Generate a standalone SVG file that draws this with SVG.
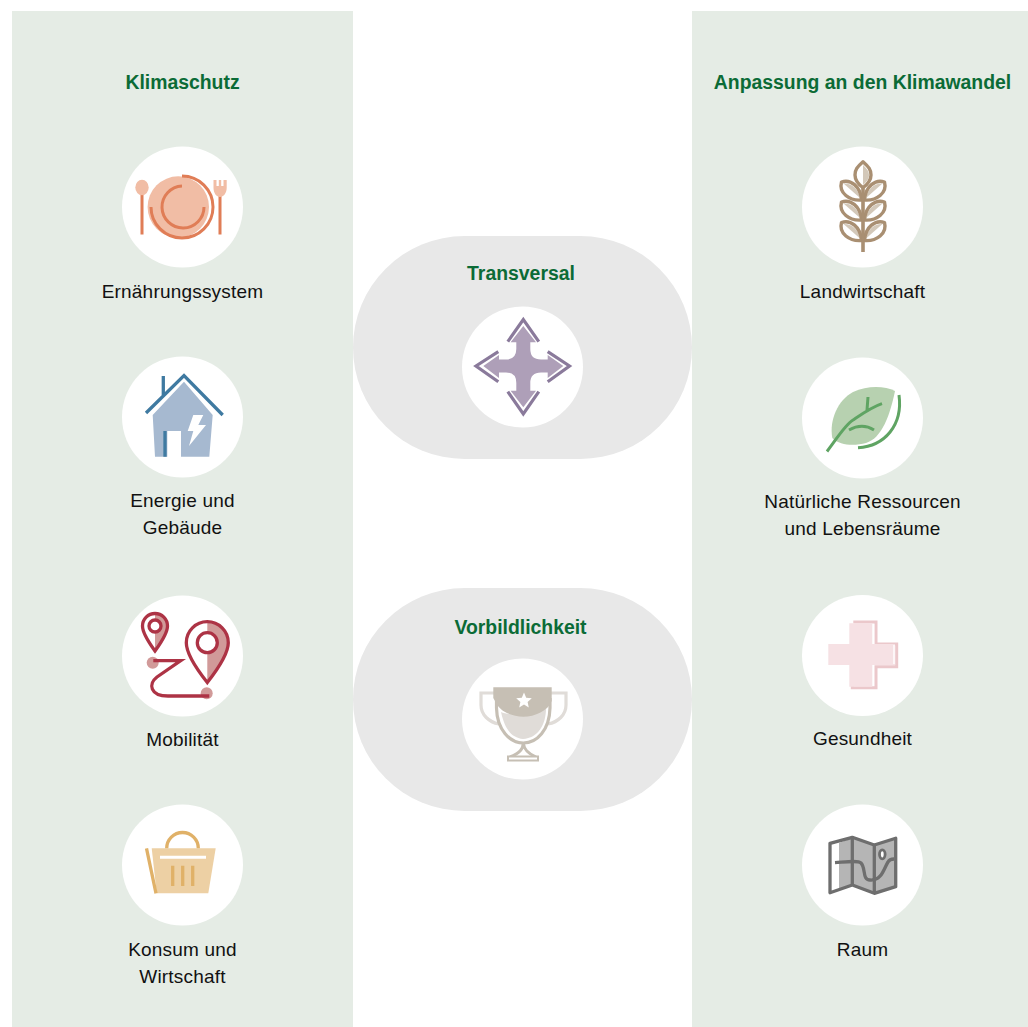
<svg xmlns="http://www.w3.org/2000/svg" xmlns:xlink="http://www.w3.org/1999/xlink" width="1028" height="1027" viewBox="0 0 1028 1027">
<style>
text{font-family:"Liberation Sans",Arial,sans-serif;text-anchor:middle}
.l{font-size:19px;fill:#111;letter-spacing:.2px}
.h{font-size:19.4px;font-weight:700;fill:#0b6b36}
.panel{fill:#e5ece5}
.pill{fill:#e8e8e8}
.disc{fill:#fff}
.n{fill:none}
</style>
<defs>
<g id="wheatLeaf"><path d="M0 1C9 -2 19 5 20 19C8 20 -3 12 0 1Z" fill="#fff"/><path d="M2 2.500C10 2 17 8 18.500 17Z" fill="#d3c8b9"/><path d="M0 1C9 -2 19 5 20 19C8 20 -3 12 0 1Z" fill="none" stroke="#a98f72" stroke-width="3.400" stroke-linejoin="round"/></g>
</defs>
<rect width="1028" height="1027" fill="#fff"/>
<g id="panels">
<rect class="panel" x="12" y="11" width="341" height="1016"/>
<rect class="panel" x="692" y="11" width="336" height="1016"/>
<rect class="pill" x="353" y="236" width="339" height="223" rx="111.500"/>
<rect class="pill" x="353" y="588" width="339" height="223" rx="111.500"/>
</g>
<g id="connectors"></g>
<g id="head-klimaschutz"><text class="h" x="182.500" y="89">Klimaschutz</text></g>
<g id="head-anpassung"><text class="h" x="862.500" y="89">Anpassung an den Klimawandel</text></g>

<g id="ernaehrung">
<circle class="disc" cx="182.500" cy="207" r="60.500"/>
<circle cx="178.300" cy="207" r="30.700" fill="#f1bda5"/>
<g class="n" stroke="#e07d56" stroke-width="3">
<path d="M182 176A31 31 0 1 1 151 207"/>
<path d="M182 186A21 21 0 1 0 204 207"/>
<path d="M142 194V234.500M220 195V234.500"/>
</g>
<ellipse cx="142" cy="187.500" rx="6.700" ry="7.700" fill="#f1bda5"/>
<path d="M213.500 180H216.500V186H218.800V180H221.200V186H223.500V180H226.700V188C226.700 193 223.500 197 220 197C216.500 197 213.500 193 213.500 188Z" fill="#f1bda5"/>
<text class="l" x="182.500" y="298">Ernährungssystem</text>
</g>

<g id="energie">
<circle class="disc" cx="182.500" cy="417" r="60.500"/>
<path d="M152.700 415L184 381.700L212.700 415L209.300 456.700H181V431H167.300V456.700H155Z" fill="#a6b9d0"/>
<path d="M163.300 376V395M146 413L184 375.500L222.700 415M165 431V456.700" class="n" stroke="#3f7aa1" stroke-width="3.300"/>
<path d="M193.300 415H203.300L198.300 425H206L189 446L193.300 431H187.700Z" fill="#fff"/>
<text class="l" x="182.500" y="507">Energie und</text>
<text class="l" x="182.500" y="534">Gebäude</text>
</g>

<g id="mobilitaet">
<circle class="disc" cx="182.500" cy="656" r="60.500"/>
<path d="M155 614A12 12 0 0 1 167 626C167 633 160 644 155 651Z" fill="#d19a99"/>
<path d="M207.300 621.500A21 21 0 0 1 228.300 642.700C228.300 655 215 672 207.300 682Z" fill="#d19a99"/>
<circle cx="152.700" cy="662.700" r="6" fill="#d19a99"/>
<circle cx="206.700" cy="693.300" r="6" fill="#d19a99"/>
<g fill="#fff" stroke="#ad3345" stroke-width="3.300">
<path d="M155 651C150 644 142.500 634 142.500 626A12.500 12.500 0 0 1 167.500 626C167.500 634 160 644 155 651Z" fill="none"/>
<circle cx="155" cy="626" r="6"/>
<path d="M207.300 682.500C199 672 186.300 655 186.300 642.700A21 21 0 0 1 228.300 642.700C228.300 655 215.500 672 207.300 682.500Z" fill="none"/>
<circle cx="207.300" cy="642.700" r="10"/>
<path d="M153.300 660.700H180.700L157 677C148 684 150 696 168 696H209.300" fill="none"/>
</g>
<text class="l" x="182.500" y="746">Mobilität</text>
</g>

<g id="konsum">
<circle class="disc" cx="182.500" cy="865" r="60.500"/>
<path d="M151.700 848.300H215.700L208.300 893.300H156.700Z" fill="#edd0a4"/>
<path d="M146.500 848.300L156 893.300M166.700 848.300A15.800 15.800 0 0 1 198.300 848.300" class="n" stroke="#e0b168" stroke-width="3.300"/>
<path d="M160 857.300H206" class="n" stroke="#fff" stroke-width="3"/>
<path d="M172.700 865.700V886M182.700 865.700V886M192.700 865.700V886" class="n" stroke="#e0b168" stroke-width="3.300"/>
<text class="l" x="182.500" y="956">Konsum und</text>
<text class="l" x="182.500" y="983">Wirtschaft</text>
</g>

<g id="transversal">
<circle class="disc" cx="522.500" cy="367" r="60.500"/>
<text class="h" x="521" y="280">Transversal</text>
<path d="M523.300 326L536 342.300H530.300V349Q530.300 359.500 541 359.500H547.700V355L563.300 366L547.700 378V372.500H541Q530.300 372.500 530.300 383V390.700H536L523.300 407.300L510.600 390.700H516.300V383Q516.300 372.500 506 372.500H499V378L483.300 366L499 355V359.500H506Q516.300 359.500 516.300 349V342.300H510.600Z" fill="#ae9fb8"/>
<path d="M507.800 341.700L523.300 319.500L538.800 341.700M498.300 351.700L476 366L498.300 381.700M547.700 351.700L569.500 366L547.700 381.700M507.800 391.700L523.300 414L538.800 391.700" class="n" stroke="#8a7a9b" stroke-width="3.200"/>
</g>

<g id="vorbildlichkeit">
<circle class="disc" cx="522.500" cy="719" r="60.500"/>
<text class="h" x="520.500" y="634">Vorbildlichkeit</text>
<path d="M494 693H481V705C481 715 489 722 499 724M551 693H566V705C566 715 558 722 548 724" class="n" stroke="#e0dcd8" stroke-width="3.200"/>
<path d="M501 712C510 716 536 716 546 708C546 725 538 738 523 739C512 738 505 730 501 712Z" fill="#e0dcd8"/>
<path d="M496.500 698V708C497 730 510 743 523.300 743C537 743 549.500 730 550 708V698" class="n" stroke="#c6bfb4" stroke-width="3.200"/>
<path d="M493.300 687.300H551.700V701C548 711 535 716.700 523.300 716.700C511 716.700 499 711 495 701L493.300 698Z" fill="#c6bfb4"/>
<path d="M524 692.500L526.200 697.700L531.800 698.200L527.600 701.900L528.800 707.400L524 704.500L519.200 707.400L520.400 701.900L516.200 698.200L521.800 697.700Z" fill="#fff"/>
<path d="M523.300 743C523 749 520 753 510 757M523.300 743C524 749 527 753 536 757" class="n" stroke="#c6bfb4" stroke-width="3"/>
<rect x="508" y="756.500" width="30" height="4" fill="#fff" stroke="#c6bfb4" stroke-width="2"/>
</g>

<g id="landwirtschaft">
<circle class="disc" cx="862.500" cy="207" r="60.500"/>
<path d="M863 161.700C869 167 871 170 871 175C871 180 868 184 863 187.700C858 184 855 180 855 175C855 170 857 167 863 161.700Z" fill="#fff"/>
<path d="M863 165C867 169 869 171 869 175C869 180 866 182 863 185Z" fill="#d3c8b9"/>
<path d="M863 161.700C869 167 871 170 871 175C871 180 868 184 863 187.700C858 184 855 180 855 175C855 170 857 167 863 161.700Z" fill="none" stroke="#a98f72" stroke-width="3.400" stroke-linejoin="round"/>
<use xlink:href="#wheatLeaf" href="#wheatLeaf" x="841.500" y="181"/>
<use xlink:href="#wheatLeaf" href="#wheatLeaf" x="841.500" y="201"/>
<use xlink:href="#wheatLeaf" href="#wheatLeaf" x="841.500" y="221.500"/>
<use xlink:href="#wheatLeaf" href="#wheatLeaf" transform="translate(1726 0) scale(-1 1)" x="841.500" y="181"/>
<use xlink:href="#wheatLeaf" href="#wheatLeaf" transform="translate(1726 0) scale(-1 1)" x="841.500" y="201"/>
<use xlink:href="#wheatLeaf" href="#wheatLeaf" transform="translate(1726 0) scale(-1 1)" x="841.500" y="221.500"/>
<path d="M863 188V252" class="n" stroke="#a98f72" stroke-width="3.600"/>
<text class="l" x="862.500" y="298">Landwirtschaft</text>
</g>

<g id="ressourcen">
<circle class="disc" cx="862.500" cy="418" r="60.500"/>
<path d="M895 391C885 386 868 385 853 392C838 400 829 420 832.300 438C840 446 855 446 866 443C882 438 890 415 895 391Z" fill="#b7d1b0"/>
<path d="M827 451.500C838 437 845 425 853 420C862 414 872 407 882 403.700M868 397L867 410M849 430C858 425 866 425 874 430M899 395C903 425 885 446 858 447.700" class="n" stroke="#5fa463" stroke-width="3"/>
<text class="l" x="862.500" y="508">Natürliche Ressourcen</text>
<text class="l" x="862.500" y="535">und Lebensräume</text>
</g>

<g id="gesundheit">
<circle class="disc" cx="862.500" cy="655.500" r="60.500"/>
<path d="M853.300 622H876V644H896.700V666.700H876V687.700H852.300V666" class="n" stroke="#ebc8cb" stroke-width="3"/>
<path d="M849.300 623.300H872.300V644H895V665H872.300V686.700H849.300V665H828.300V644H849.300Z" fill="#f6e1e4"/>
<path d="M873.500 644V624M894 645V664" class="n" stroke="#fff" stroke-width="1.400"/>
<text class="l" x="862.500" y="745">Gesundheit</text>
</g>

<g id="raum">
<circle class="disc" cx="862.500" cy="865" r="60.500"/>
<path d="M839 843L852.300 838L874.300 845L895.700 838.300V886.700L874.300 893.300L852.300 885L839 890Z" fill="#b5b5b5"/>
<g class="n" stroke="#6e6e6e" stroke-width="3.300" stroke-linejoin="round">
<path d="M830 843.300L852.300 837.300L874.300 845L895.700 838.300V886.700L874.300 893.300L852.300 885L830 892.700Z"/>
<path d="M852.300 837.300V885M874.300 845V893.300"/>
<path d="M835 862.700C845 862 858 860 861 863C866 868 862 880 870 880C882 881 884 868 888 862C889 860 891 859 894 859"/>
</g>
<ellipse cx="882.300" cy="854.300" rx="2.800" ry="4.500" fill="#fff" stroke="#6e6e6e" stroke-width="2.800"/>
<text class="l" x="862.500" y="956">Raum</text>
</g>
</svg>
